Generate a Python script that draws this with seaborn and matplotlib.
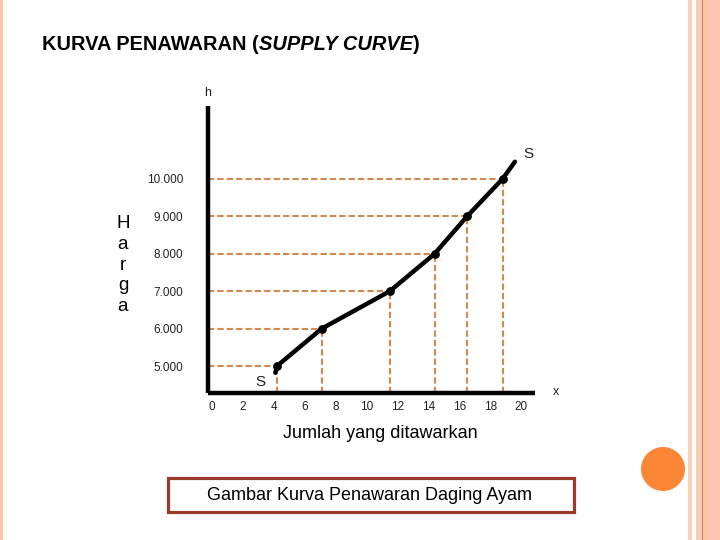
import matplotlib
matplotlib.use("Agg")
import matplotlib.pyplot as plt
import matplotlib.patches as mpatches
import pandas as pd
import seaborn as sns

# data: jumlah yang ditawarkan vs harga
jumlah = [4.2, 7.1, 11.5, 14.4, 16.5, 18.8]
harga = [5000, 6000, 7000, 8000, 9000, 10000]
# ujung kurva S (di bawah titik pertama dan di atas titik terakhir)
ujung_jumlah = [4.1, 19.6]
ujung_harga = [4820, 10460]

x_ticks = [0, 2, 4, 6, 8, 10, 12, 14, 16, 18, 20]
y_ticks = [5000, 6000, 7000, 8000, 9000, 10000]
y_labels = ["5.000", "6.000", "7.000", "8.000", "9.000", "10.000"]

sns.set_theme(style="white")
plt.rcParams["font.family"] = ["Liberation Sans", "DejaVu Sans"]

W, H = 720, 540
fig = plt.figure(figsize=(7.2, 5.4), dpi=100)
fig.patch.set_facecolor("white")

ax = fig.add_axes([208 / W, 1 - 393 / H, 327 / W, 287 / H])
ax.set_facecolor("white")
ax.set_xlim(-0.26, 20.9)
ax.set_ylim(4280, 11950)

# garis bantu putus-putus
dash_col = "#d4884e"
ax.hlines(harga, ax.get_xlim()[0], jumlah, colors=dash_col, lw=1.5,
          linestyles=(0, (3, 1.5)), zorder=1)
ax.vlines(jumlah, ax.get_ylim()[0], harga, colors=dash_col, lw=1.5,
          linestyles=(0, (3, 1.5)), zorder=1)

# kurva penawaran
kurva = pd.DataFrame({
    "q": [ujung_jumlah[0]] + jumlah + [ujung_jumlah[1]],
    "p": [ujung_harga[0]] + harga + [ujung_harga[1]],
})
sns.lineplot(data=kurva, x="q", y="p", sort=False, color="black", lw=3.2,
             ax=ax, zorder=3)
sns.scatterplot(x=jumlah, y=harga, color="black", s=40, linewidth=0,
                ax=ax, zorder=4)

ax.text(ujung_jumlah[0] - 1.0, ujung_harga[0] - 50, "S", fontsize=11,
        ha="center", va="top", color="#222222")
ax.text(ujung_jumlah[1] + 0.9, ujung_harga[1] + 20, "S", fontsize=11,
        ha="center", va="bottom", color="#222222")

ax.set_xticks(x_ticks)
ax.set_xticklabels([str(v) for v in x_ticks], fontsize=8.5, color="#222222")
ax.set_yticks(y_ticks)
ax.set_yticklabels(y_labels, fontsize=8.5, color="#222222")
ax.tick_params(axis="x", length=0, pad=6)
ax.tick_params(axis="y", length=0, pad=18)
ax.set_xlabel("")
ax.set_ylabel("")
for s in ["top", "right"]:
    ax.spines[s].set_visible(False)
for s in ["left", "bottom"]:
    ax.spines[s].set_linewidth(3.2)
    ax.spines[s].set_color("black")
    ax.spines[s].set_capstyle("butt")

# teks sumbu
fig.text(208 / W, 1 - 93 / H, "h", fontsize=9, ha="center", va="center",
         color="#222222")
fig.text(556 / W, 1 - 392 / H, "x", fontsize=9, ha="center", va="center",
         color="#222222")
fig.text(123 / W, 1 - 265 / H, "H\na\nr\ng\na", fontsize=13.5, ha="center",
         va="center", linespacing=1.28, color="black")
fig.text(380 / W, 1 - 434 / H, "Jumlah yang ditawarkan", fontsize=13,
         ha="center", va="center", color="black")

# judul
t1 = fig.text(42 / W, 1 - 45 / H, "KURVA PENAWARAN (", fontsize=14.4,
              fontweight="bold", ha="left", va="center", color="black")
t2 = ax.annotate("SUPPLY CURVE", xy=(1, 0), xycoords=t1, va="bottom",
                 ha="left", fontsize=14.4, fontweight="bold",
                 fontstyle="italic", color="black", annotation_clip=False)
t3 = ax.annotate(")", xy=(1, 0), xycoords=t2, va="bottom", ha="left",
                 fontsize=14.4, fontweight="bold", color="black",
                 annotation_clip=False)

# kotak keterangan
fig.patches.append(mpatches.Rectangle((168 / W, 1 - 512 / H), 406 / W, 34 / H,
                                      transform=fig.transFigure, fill=False,
                                      edgecolor="#9c3b2c", lw=2.3))
fig.text(370 / W, 1 - 495 / H, "Gambar Kurva Penawaran Daging Ayam",
         fontsize=13, ha="center", va="center", color="black")

# hiasan slide
hiasan = [
    (0, 3, "#f8c4ae"),
    (688, 4, "#fad0bf"),
    (696, 6, "#fbcab4"),
    (702, 1.3, "#cf8450"),
    (703.3, 7, "#fcc4aa"),
    (710, 10, "#fdc6b3"),
]
for x0, w, c in hiasan:
    fig.patches.append(mpatches.Rectangle((x0 / W, 0), w / W, 1,
                                          transform=fig.transFigure,
                                          color=c, lw=0))
fig.patches.append(mpatches.Ellipse((663 / W, 1 - 469 / H), 44 / W, 44 / H,
                                    transform=fig.transFigure,
                                    color="#fb8636", lw=0))

fig.savefig("out.png", dpi=100)
